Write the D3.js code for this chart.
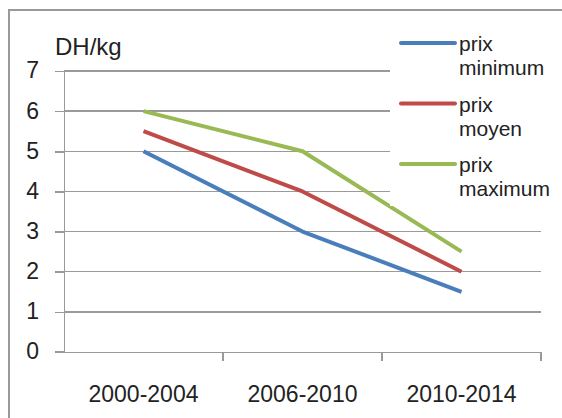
<!DOCTYPE html>
<meta charset="utf-8">
<style>
body { margin: 0; background: #fff; }
svg { display: block; background: #fff; }
.axis text, .lbl { font-family: "Liberation Sans", Arial, sans-serif; fill: #222; }
.axis path, .axis line { stroke: #999; stroke-width: 1.5; shape-rendering: crispEdges; }
.grid line { stroke: #9a9a9a; stroke-width: 1.5; shape-rendering: crispEdges; }
</style>
<svg width="562" height="418"></svg>
<script src="https://d3js.org/d3.v7.min.js"></script>
<script>

var periods = ["2000-2004", "2006-2010", "2010-2014"];
var prixMinimum = [5, 3, 1.5];
var prixMoyen = [5.5, 4, 2];
var prixMaximum = [6, 5, 2.5];
var yTicks = [0, 1, 2, 3, 4, 5, 6, 7];

var series = [
  {name: ["prix", "minimum"], values: prixMinimum, color: "#4a7ebb"},
  {name: ["prix", "moyen"], values: prixMoyen, color: "#be4b48"},
  {name: ["prix", "maximum"], values: prixMaximum, color: "#98b954"}
];

var svg = d3.select("svg"),
    margin = {top: 71, right: 21, bottom: 66, left: 64},
    width = svg.attr("width") - margin.left - margin.right,
    height = svg.attr("height") - margin.top - margin.bottom;

// outer chart border (only top and left are visible in the picture)
svg.append("rect")
    .attr("x", 9).attr("y", 10)
    .attr("width", 600).attr("height", 450)
    .attr("fill", "none")
    .attr("stroke", "#999")
    .attr("stroke-width", 2);

var x = d3.scaleBand().domain(periods).range([0, width]).padding(0);
var y = d3.scaleLinear().domain([0, 7]).range([height, 0]);

var g = svg.append("g")
    .attr("transform", "translate(" + margin.left + "," + margin.top + ")");

g.append("g")
    .attr("class", "grid")
  .selectAll("line").data(yTicks.slice(1)).enter().append("line")
    .attr("x1", 0).attr("x2", width)
    .attr("y1", function(d) { return y(d); })
    .attr("y2", function(d) { return y(d); });

var yAxis = g.append("g")
    .attr("class", "axis")
    .call(d3.axisLeft(y).tickValues(yTicks).tickFormat(d3.format("d"))
      .tickSize(9).tickPadding(16).tickSizeOuter(0));
yAxis.selectAll("text").style("font-size", "23px").attr("dy", "0.3em");

var xAxis = g.append("g")
    .attr("class", "axis")
    .attr("transform", "translate(0," + height + ")")
    .call(d3.axisBottom(x).tickSize(0).tickSizeOuter(0).tickPadding(34));
xAxis.selectAll("text").style("font-size", "23px");
xAxis.selectAll(".tickmark").data(periods).enter().append("line")
    .attr("x1", function(d) { return x(d) + x.bandwidth(); })
    .attr("x2", function(d) { return x(d) + x.bandwidth(); })
    .attr("y1", 0).attr("y2", 9);
xAxis.append("line").attr("x1", -9).attr("x2", 0).attr("y1", 0).attr("y2", 0);

var line = d3.line()
    .x(function(d, i) { return x(periods[i]) + x.bandwidth() / 2; })
    .y(function(d) { return y(d); });

g.selectAll(".serie").data(series).enter().append("path")
    .attr("fill", "none")
    .attr("stroke", function(d) { return d.color; })
    .attr("stroke-width", 4)
    .attr("stroke-linejoin", "round")
    .attr("d", function(d) { return line(d.values); });

g.append("text")
    .attr("class", "lbl")
    .attr("x", -9).attr("y", -16)
    .style("font-size", "24px")
    .text("DH/kg");

// legend, with a white box that hides what is behind it
var legend = svg.append("g").attr("transform", "translate(390,26)");
legend.append("rect")
    .attr("width", 168).attr("height", 180)
    .attr("fill", "#fff");

var item = legend.selectAll(".item").data(series).enter().append("g")
    .attr("transform", function(d, i) { return "translate(0," + (i * 60.5) + ")"; });
item.append("line")
    .attr("x1", 11).attr("x2", 65)
    .attr("y1", 17).attr("y2", 17)
    .attr("stroke", function(d) { return d.color; })
    .attr("stroke-width", 4)
    .attr("stroke-linecap", "round");
item.append("text")
    .attr("class", "lbl")
    .attr("x", 69).attr("y", 25)
    .style("font-size", "21px")
    .text(function(d) { return d.name[0]; });
item.append("text")
    .attr("class", "lbl")
    .attr("x", 69).attr("y", 49)
    .style("font-size", "21px")
    .text(function(d) { return d.name[1]; });

</script>
